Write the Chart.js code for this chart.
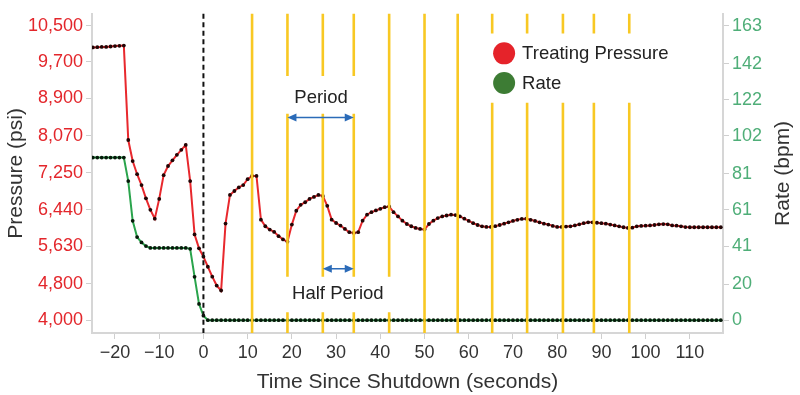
<!DOCTYPE html>
<html>
<head>
<meta charset="utf-8">
<script src="https://cdn.jsdelivr.net/npm/chart.js@4.4.1/dist/chart.umd.min.js"></script>
<style>
  html, body { margin: 0; padding: 0; background: #fff; }
  #wrap { width: 800px; height: 395px; }
</style>
</head>
<body>
<div id="wrap"><canvas id="c"></canvas></div>
<script>
// sample clock, one reading per second
const seconds = [
  -25,-24,-23,-22,-21,-20,-19,-18,-17,-16,
  -15,-14,-13,-12,-11,-10,-9,-8,-7,-6,
  -5,-4,-3,-2,-1,0,1,2,3,4,
  5,6,7,8,9,10,11,12,13,14,
  15,16,17,18,19,20,21,22,23,24,
  25,26,27,28,29,30,31,32,33,34,
  35,36,37,38,39,40,41,42,43,44,
  45,46,47,48,49,50,51,52,53,54,
  55,56,57,58,59,60,61,62,63,64,
  65,66,67,68,69,70,71,72,73,74,
  75,76,77,78,79,80,81,82,83,84,
  85,86,87,88,89,90,91,92,93,94,
  95,96,97,98,99,100,101,102,103,104,
  105,106,107,108,109,110,111,112,113,114,
  115,116,117
];

const pressure = [
  10020,10025,10030,10030,10040,10050,10055,10060,7976,7511,
  7221,6981,6689,6436,6240,6676,7200,7402,7527,7650,
  7760,7867,7069,5891,5585,5400,5178,4960,4763,4654,
  6131,6763,6850,6929,6981,7112,7184,7184,6218,6072,
  6000,5948,5854,5782,5730,6109,6414,6545,6602,6676,
  6719,6763,6741,6523,6218,6144,6087,6013,5941,5926,
  5941,6196,6327,6384,6421,6458,6493,6508,6384,6290,
  6196,6122,6072,6035,6013,6000,6122,6196,6253,6290,
  6310,6327,6320,6290,6240,6190,6140,6100,6070,6057,
  6057,6075,6100,6130,6160,6190,6215,6235,6240,6215,
  6190,6160,6130,6110,6080,6057,6057,6065,6070,6090,
  6115,6140,6160,6160,6150,6140,6130,6110,6090,6070,
  6050,6035,6040,6070,6080,6085,6090,6100,6115,6120,
  6115,6090,6085,6070,6055,6050,6050,6050,6050,6050,
  6050,6050,6050
];

const rate = [
  90,90,90,90,90,90,90,90,77,55,
  46,43,41,40,40,40,40,40,40,40,
  40,40,39.5,24,9,2.5,0,0,0,0,
  0,0,0,0,0,0,0,0,0,0,
  0,0,0,0,0,0,0,0,0,0,
  0,0,0,0,0,0,0,0,0,0,
  0,0,0,0,0,0,0,0,0,0,
  0,0,0,0,0,0,0,0,0,0,
  0,0,0,0,0,0,0,0,0,0,
  0,0,0,0,0,0,0,0,0,0,
  0,0,0,0,0,0,0,0,0,0,
  0,0,0,0,0,0,0,0,0,0,
  0,0,0,0,0,0,0,0,0,0,
  0,0,0,0,0,0,0,0,0,0,
  0,0,0
];

const timeTicks = [-20,-10,0,10,20,30,40,50,60,70,80,90,100,110];
const pressureTicks = [4000,4800,5630,6440,7250,8070,8900,9700,10500];
const rateTicks = [0,20,41,61,81,102,122,142,163];

// times of the yellow cycle markers
const cycleMarks = [11,19,27,34,42,50,57.5,65.3,73.2,81.3,88.3,96.3];

const RED = "#e8282d";
const GREEN = "#2aa44c";
const YELLOW = "#f8c823";
const BLUE = "#2b6bb8";
const fam = "'Liberation Sans', Arial, sans-serif";

function arrow(ctx, x1, x2, y) {
  ctx.save();
  ctx.strokeStyle = BLUE;
  ctx.fillStyle = BLUE;
  ctx.lineWidth = 1.5;
  ctx.beginPath();
  ctx.moveTo(x1 + 4, y);
  ctx.lineTo(x2 - 4, y);
  ctx.stroke();
  for (const [tip, dir] of [[x1, 1], [x2, -1]]) {
    ctx.beginPath();
    ctx.moveTo(tip, y);
    ctx.lineTo(tip + dir * 9, y - 4);
    ctx.lineTo(tip + dir * 9, y + 4);
    ctx.closePath();
    ctx.fill();
  }
  ctx.restore();
}

const overlay = {
  id: "overlay",
  afterDatasetsDraw(chart) {
    const {ctx, chartArea: a, scales: {x, y, y1}} = chart;
    ctx.save();

    // yellow markers, broken where the labels sit
    ctx.strokeStyle = YELLOW;
    ctx.lineWidth = 2.6;
    for (const t of cycleMarks) {
      const px = x.getPixelForValue(t);
      let gaps = [];
      if (t >= 19 && t <= 34) gaps = [[9387, 8558], [4960, 4174]];
      else if (t === 42) gaps = [[4960, 4174]];
      else if (t > 60) gaps = [[10325, 8798]];
      let top = a.top;
      ctx.beginPath();
      for (const [hi, lo] of gaps) {
        ctx.moveTo(px, top);
        ctx.lineTo(px, y.getPixelForValue(hi));
        top = y.getPixelForValue(lo);
      }
      ctx.moveTo(px, top);
      ctx.lineTo(px, a.bottom);
      ctx.stroke();
    }

    // shutdown line
    ctx.strokeStyle = "#111";
    ctx.lineWidth = 2;
    ctx.setLineDash([5, 3.5]);
    const x0 = x.getPixelForValue(0);
    ctx.beginPath();
    ctx.moveTo(x0, a.top);
    ctx.lineTo(x0, a.bottom);
    ctx.stroke();
    ctx.setLineDash([]);

    // period arrows
    arrow(ctx, x.getPixelForValue(19), x.getPixelForValue(34), y.getPixelForValue(8471));
    arrow(ctx, x.getPixelForValue(27), x.getPixelForValue(34), y.getPixelForValue(5134));

    ctx.fillStyle = "#222";
    ctx.font = "18.5px " + fam;
    ctx.textAlign = "center";
    ctx.textBaseline = "middle";
    ctx.fillText("Period", x.getPixelForValue(26.6), y.getPixelForValue(8907));
    ctx.fillText("Half Period", x.getPixelForValue(30.4), y.getPixelForValue(4589));

    // legend
    const lx = x.getPixelForValue(68);
    const items = [["Treating Pressure", "#e5232a", 9889], ["Rate", "#3d7c34", 9235]];
    ctx.textAlign = "left";
    for (const [label, col, v] of items) {
      const ly = y.getPixelForValue(v);
      ctx.beginPath();
      ctx.arc(lx, ly, 11, 0, Math.PI * 2);
      ctx.fillStyle = col;
      ctx.fill();
      ctx.fillStyle = "#222";
      ctx.fillText(label, lx + 18, ly + 1);
    }

    // right axis title reads bottom to top, like the left one
    ctx.translate(y1.right - 17, (a.top + a.bottom) / 2);
    ctx.rotate(-Math.PI / 2);
    ctx.textAlign = "center";
    ctx.fillStyle = "#333";
    ctx.font = "21px " + fam;
    ctx.fillText("Rate (bpm)", 0, 0);
    ctx.restore();
  }
};

Chart.defaults.font.family = fam;

new Chart(document.getElementById("c"), {
  type: "line",
  data: {
    datasets: [
      {
        label: "Treating Pressure",
        data: seconds.map((t, i) => ({x: t, y: pressure[i]})),
        yAxisID: "y",
        borderColor: RED,
        borderWidth: 2,
        pointRadius: 1.9,
        pointBackgroundColor: "#220505",
        pointBorderWidth: 0,
        tension: 0
      },
      {
        label: "Rate",
        data: seconds.map((t, i) => ({x: t, y: rate[i]})),
        yAxisID: "y1",
        borderColor: GREEN,
        borderWidth: 2,
        pointRadius: 1.9,
        pointBackgroundColor: "#061a0a",
        pointBorderWidth: 0,
        tension: 0
      }
    ]
  },
  options: {
    responsive: true,
    maintainAspectRatio: false,
    animation: false,
    layout: {padding: {top: 10, left: 0, right: 0, bottom: 0}},
    plugins: {legend: {display: false}, tooltip: {enabled: false}},
    scales: {
      x: {
        type: "linear",
        min: -25.2,
        max: 117.5,
        afterBuildTicks: s => { s.ticks = timeTicks.map(v => ({value: v})); },
        afterFit: s => { s.height = 62; },
        grid: {drawOnChartArea: false, tickLength: 6, color: "#cfcfcf"},
        border: {color: "#d6d6d6", width: 2},
        ticks: {
          color: "#333",
          font: {size: 18},
          maxRotation: 0,
          autoSkip: false,
          callback: v => String(v).replace("-", "\u2212")
        },
        title: {display: true, text: "Time Since Shutdown (seconds)", color: "#333", font: {size: 21}, padding: {top: 4, bottom: 0}}
      },
      y: {
        position: "left",
        min: 3716,
        max: 10762,
        afterBuildTicks: s => { s.ticks = pressureTicks.map(v => ({value: v})); },
        afterFit: s => { s.width = 92; },
        grid: {drawOnChartArea: false, tickLength: 6, color: "#cfcfcf"},
        border: {color: "#d6d6d6", width: 2},
        ticks: {color: "#e3262b", font: {size: 18}, callback: v => v.toLocaleString("en-US")},
        title: {display: true, text: "Pressure (psi)", color: "#333", font: {size: 21}}
      },
      y1: {
        position: "right",
        min: -7.11,
        max: 169.56,
        afterBuildTicks: s => { s.ticks = rateTicks.map(v => ({value: v})); },
        afterFit: s => { s.width = 77; },
        grid: {drawOnChartArea: false, tickLength: 6, color: "#cfcfcf"},
        border: {color: "#d6d6d6", width: 2},
        ticks: {color: "#4fae78", font: {size: 18}}
      }
    }
  },
  plugins: [overlay]
});
</script>
</body>
</html>
